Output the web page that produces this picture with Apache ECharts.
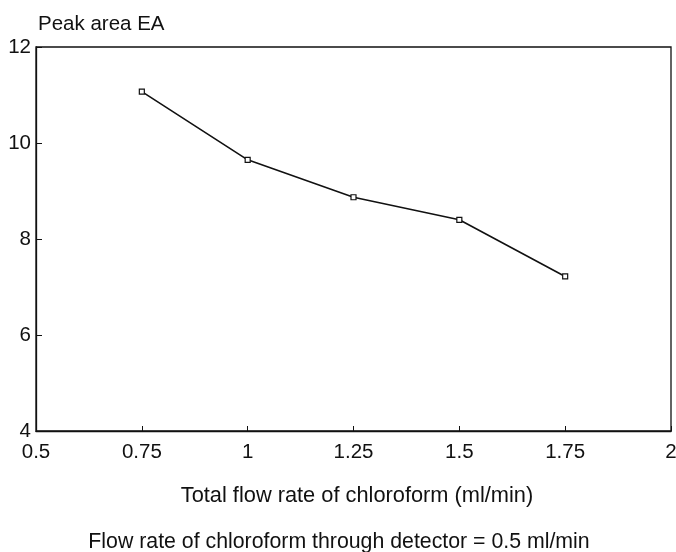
<!DOCTYPE html>
<html>
<head>
<meta charset="utf-8">
<script src="https://cdn.jsdelivr.net/npm/echarts@6/dist/echarts.min.js"></script>
<style>
  html, body { margin: 0; padding: 0; background: #fff; }
  #chart { width: 676px; height: 552px; }
</style>
</head>
<body>
<div id="chart"></div>
<script>
// Total flow rate of chloroform (ml/min)
const flowRates = [0.75, 1.0, 1.25, 1.5, 1.75];
// Peak area EA at each flow rate
const peakAreas = [11.07, 9.65, 8.87, 8.4, 7.22];

const xTickLabels = { 0.5: '0.5', 0.75: '0.75', 1: '1', 1.25: '1.25', 1.5: '1.5', 1.75: '1.75', 2: '2' };

const fontFamily = '"Liberation Sans", Arial, Helvetica, sans-serif';
const fs = 20.5;
const chart = echarts.init(document.getElementById('chart'));

chart.setOption({
  backgroundColor: '#fff',
  animation: false,
  textStyle: { fontFamily: fontFamily, color: '#111' },
  grid: {
    left: 36, right: 5, top: 47, bottom: 121,
    outerBoundsMode: 'none', containLabel: false,
    show: true, borderColor: '#111', borderWidth: 1.3, backgroundColor: 'transparent'
  },
  title: [
    { text: 'Peak area EA', left: 33, top: 9,
      textStyle: { fontFamily: fontFamily, fontSize: fs, fontWeight: 'normal', color: '#111' } },
    { text: 'Total flow rate of chloroform (ml/min)', left: 352, textAlign: 'center', top: 480,
      textStyle: { fontFamily: fontFamily, fontSize: 21.8, fontWeight: 'normal', color: '#111' } },
    { text: 'Flow rate of chloroform through detector = 0.5 ml/min', left: 334, textAlign: 'center', top: 527,
      textStyle: { fontFamily: fontFamily, fontSize: 21.3, fontWeight: 'normal', color: '#111' } }
  ],
  xAxis: {
    type: 'value', min: 0.5, max: 2, interval: 0.25,
    axisLine: { show: true, lineStyle: { color: '#111', width: 1.3 } },
    axisTick: { show: true, inside: true, length: 5, lineStyle: { color: '#111' } },
    splitLine: { show: false },
    axisLabel: {
      color: '#111', fontSize: fs, fontFamily: fontFamily, margin: 11,
      formatter: v => xTickLabels[v] !== undefined ? xTickLabels[v] : String(v)
    }
  },
  yAxis: {
    type: 'value', min: 4, max: 12, interval: 2,
    axisLine: { show: true, lineStyle: { color: '#111', width: 1.3 } },
    axisTick: { show: true, inside: true, length: 6, lineStyle: { color: '#111' } },
    splitLine: { show: false },
    axisLabel: { color: '#111', fontSize: fs, fontFamily: fontFamily, margin: 5 }
  },
  series: [{
    type: 'line',
    data: flowRates.map((x, i) => [x, peakAreas[i]]),
    symbol: 'rect', symbolSize: 5,
    itemStyle: { color: '#fff', borderColor: '#111', borderWidth: 1.2 },
    lineStyle: { color: '#111', width: 1.6 }
  }]
});
</script>
</body>
</html>
